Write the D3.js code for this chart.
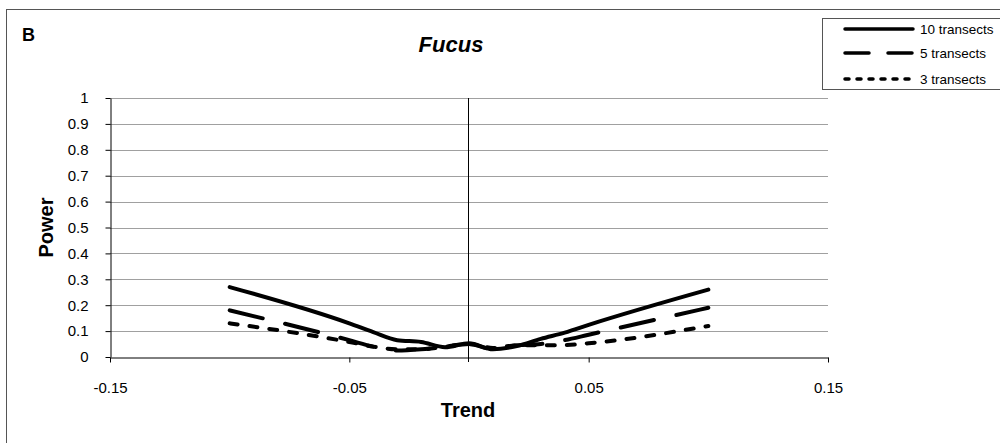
<!DOCTYPE html>
<html>
<head>
<meta charset="utf-8">
<script src="https://cdn.jsdelivr.net/npm/d3@7"></script>
<style>
  body { margin: 0; background: #fff; }
  svg { display: block; font-family: "Liberation Sans", Arial, sans-serif; }
</style>
</head>
<body>
<svg id="chart" width="1000" height="443"></svg>
<script>
// trend values (x) and power per series
const trend = [-0.1, -0.05, -0.04, -0.03, -0.02, -0.01, 0, 0.01, 0.02, 0.03, 0.04, 0.05, 0.1];
const power10 = [0.27, 0.13, 0.096, 0.065, 0.058, 0.038, 0.053, 0.03, 0.042, 0.07, 0.094, 0.124, 0.26];
const power5  = [0.18, 0.065, 0.04, 0.025, 0.03, 0.04, 0.05, 0.03, 0.045, 0.05, 0.065, 0.086, 0.19];
const power3  = [0.13, 0.058, 0.04, 0.03, 0.03, 0.04, 0.05, 0.035, 0.045, 0.045, 0.046, 0.053, 0.12];
const seriesNames = ["10 transects", "5 transects", "3 transects"];
const xTicks = [-0.15, -0.05, 0.05, 0.15];
const xTickLabels = ["-0.15", "-0.05", "0.05", "0.15"];
const yTicks = [0, 0.1, 0.2, 0.3, 0.4, 0.5, 0.6, 0.7, 0.8, 0.9, 1];
const yTickLabels = ["0", "0.1", "0.2", "0.3", "0.4", "0.5", "0.6", "0.7", "0.8", "0.9", "1"];

const margin = { top: 98, right: 172, bottom: 86, left: 110 },
    width = 1000 - margin.left - margin.right,
    height = 443 - margin.top - margin.bottom;

const svg = d3.select("#chart");

// outer frame (only top and left visible)
svg.append("rect")
    .attr("x", 6.5).attr("y", 9.5)
    .attr("width", 1010).attr("height", 450)
    .attr("fill", "none").attr("stroke", "#555").attr("stroke-width", 1);

svg.append("text")
    .attr("x", 22).attr("y", 41)
    .style("font-size", "18px").style("font-weight", "bold")
    .text("B");

svg.append("text")
    .attr("x", 451).attr("y", 52)
    .attr("text-anchor", "middle")
    .style("font-size", "22px").style("font-weight", "bold").style("font-style", "italic")
    .text("Fucus");

const g = svg.append("g")
    .attr("transform", `translate(${margin.left},${margin.top})`);

const x = d3.scaleLinear().domain([-0.15, 0.15]).range([0, width]);
const y = d3.scaleLinear().domain([0, 1]).range([height, 0]);

// gridlines
g.append("g")
    .selectAll("line")
    .data(yTicks.filter(d => d > 0))
    .enter()
    .append("line")
    .attr("x1", 0).attr("x2", width)
    .attr("y1", d => Math.round(y(d)) + 0.5).attr("y2", d => Math.round(y(d)) + 0.5)
    .attr("stroke", "#a0a0a0").attr("stroke-width", 1);

// y axis
const yAxis = g.append("g")
    .attr("transform", "translate(0.5,0)")
    .call(d3.axisLeft(y).tickValues(yTicks).tickFormat((d, i) => yTickLabels[i]).tickSize(5).tickSizeOuter(0));
yAxis.select(".domain").attr("stroke", "#000");
yAxis.selectAll("text").style("font-size", "15px").style("font-family", "Liberation Sans, Arial, sans-serif").attr("x", -22);

// x axis
const xAxis = g.append("g")
    .attr("transform", `translate(0,${height + 0.5})`)
    .call(d3.axisBottom(x).tickValues(xTicks).tickFormat((d, i) => xTickLabels[i]).tickSize(5).tickSizeOuter(0));
xAxis.select(".domain").attr("stroke", "#000");
xAxis.selectAll("text").style("font-size", "15px").style("font-family", "Liberation Sans, Arial, sans-serif").attr("y", 25);

// vertical line at trend 0
g.append("line")
    .attr("x1", Math.round(x(0)) - 0.5).attr("x2", Math.round(x(0)) - 0.5)
    .attr("y1", 0).attr("y2", height + 5)
    .attr("stroke", "#000").attr("stroke-width", 1);

// axis titles
svg.append("text")
    .attr("x", 468).attr("y", 417)
    .attr("text-anchor", "middle")
    .style("font-size", "20px").style("font-weight", "bold")
    .text("Trend");

svg.append("text")
    .attr("transform", `translate(53,${margin.top + height / 2}) rotate(-90)`)
    .attr("text-anchor", "middle")
    .style("font-size", "20px").style("font-weight", "bold")
    .text("Power");

// series
const styles = [
    { dash: null, legendDash: null },
    { dash: "34,23", legendDash: "24,19" },
    { dash: "8,12", legendDash: "4,8" }
];
const allSeries = [power10, power5, power3];

const line = d3.line()
    .x(d => x(d[0]))
    .y(d => y(d[1]))
    .curve(d3.curveMonotoneX);

allSeries.forEach((vals, i) => {
    g.append("path")
        .datum(trend.map((t, j) => [t, vals[j]]))
        .attr("fill", "none")
        .attr("stroke", "#000")
        .attr("stroke-width", 4)
        .attr("stroke-linecap", "round")
        .attr("stroke-linejoin", "round")
        .attr("stroke-dasharray", styles[i].dash)
        .attr("d", line);
});

// legend
const legend = svg.append("g");
legend.append("rect")
    .attr("x", 822.5).attr("y", 18.5)
    .attr("width", 200).attr("height", 71)
    .attr("fill", "#fff").attr("stroke", "#555").attr("stroke-width", 1);

const legendY = [29, 53, 79];
seriesNames.forEach((name, i) => {
    legend.append("line")
        .attr("x1", 845).attr("x2", 913)
        .attr("y1", legendY[i]).attr("y2", legendY[i])
        .attr("stroke", "#000").attr("stroke-width", 3.5)
        .attr("stroke-linecap", "round")
        .attr("stroke-dasharray", styles[i].legendDash);
    legend.append("text")
        .attr("x", 920).attr("y", legendY[i] + 5)
        .style("font-size", "13.5px")
        .text(name);
});
</script>
</body>
</html>
